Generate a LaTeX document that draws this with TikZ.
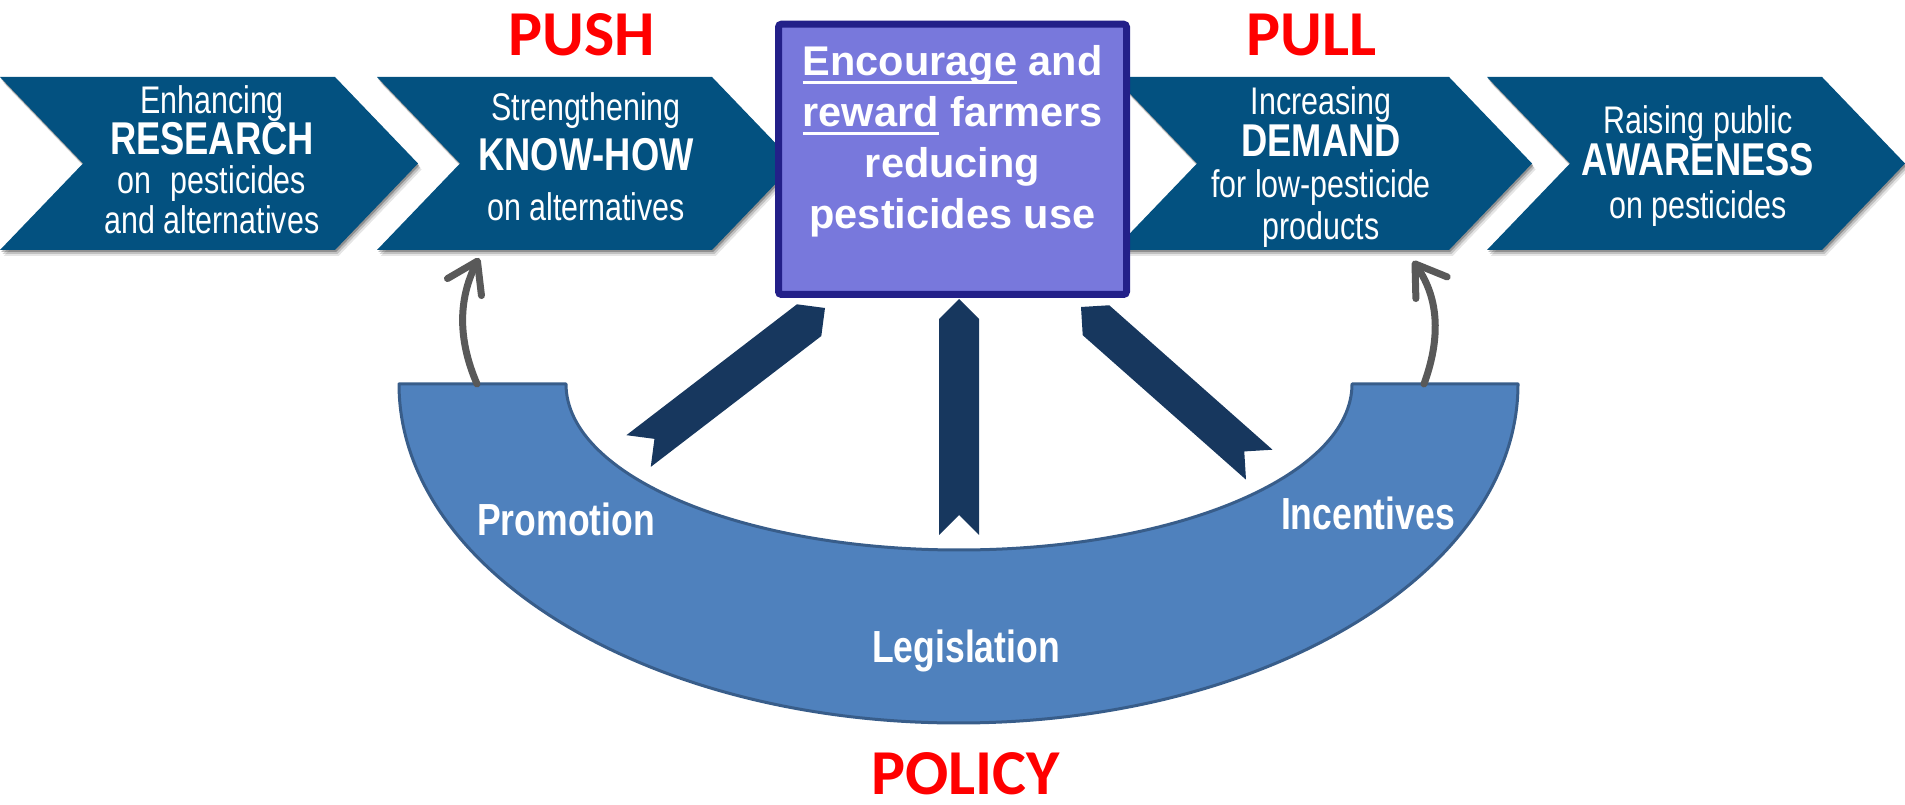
\documentclass[tikz,border=0pt]{standalone}
\usepackage{fontspec}
\setmainfont{Liberation Sans}
\newfontfamily\narrowfont[FakeStretch=0.79]{Liberation Sans}
\newfontfamily\calibfont{Carlito}
\usetikzlibrary{arrows.meta}

\definecolor{chev}{RGB}{3,81,128}
\definecolor{boxfill}{RGB}{120,120,220}
\definecolor{boxline}{RGB}{35,32,137}
\definecolor{polfill}{RGB}{79,129,189}
\definecolor{polline}{RGB}{56,93,138}
\definecolor{navyarrow}{RGB}{23,55,94}
\definecolor{greyarrow}{RGB}{89,89,89}
\definecolor{titlered}{RGB}{255,0,0}

% word with a thick underline set a little below the baseline
\newsavebox\ulbox
\newcommand\ulword[1]{\sbox\ulbox{#1}\rlap{\rule[-8.5pt]{\wd\ulbox}{3pt}}\usebox\ulbox}

\tikzset{
  chevronshape/.pic={
    % soft drop shadow
    \foreach \d/\o in {6/0.10, 4/0.16, 2/0.25}
      \fill[black, opacity=\o] (0.6*\d,-\d) -- ++(335,0) -- ++(83,86.5) -- ++(-83,86.5) -- ++(-335,0) -- ++(83,-86.5) -- cycle;
    \fill[chev] (0,0) -- (335,0) -- (418,86.5) -- (335,173) -- (0,173) -- (83,86.5) -- cycle;
  },
  leverpic/.pic={
    \fill[navyarrow] (0,0) -- (-20,20) -- (-#1,20) -- (-#1+20,0) -- (-#1,-20) -- (-20,-20) -- cycle;
  },
  chevtext/.style={anchor=north, align=center, inner sep=0pt, text=white},
  pollabel/.style={anchor=base, inner sep=0pt, text=white,
    font=\narrowfont\bfseries\fontsize{45}{48}\selectfont},
  redtitle/.style={anchor=base, inner sep=0pt, text=titlered,
    font=\calibfont\bfseries\fontsize{64}{70}\selectfont},
  greyarr/.style={draw=greyarrow, line width=7pt, line cap=round,
    -{Straight Barb[length=29pt,width=38pt,round]}},
}

\begin{document}
\begin{tikzpicture}[x=1pt,y=1pt]
\useasboundingbox (0,0) rectangle (1905,805);

% ---- row of chevrons ----
\pic (chevA) at (0,555) {chevronshape};
\pic (chevB) at (377,555) {chevronshape};
\pic (chevC) at (1114,555) {chevronshape};
\pic (chevD) at (1487,555) {chevronshape};

\node[chevtext, font=\narrowfont\fontsize{38.5}{39.5}\selectfont] (researchtxt) at (212,720)
  {Enhancing\\{\bfseries\fontsize{46}{39.5}\selectfont RESEARCH}\\on\enspace pesticides\\and alternatives};
\node[chevtext, font=\narrowfont\fontsize{38.5}{50}\selectfont] (knowtxt) at (586,713)
  {Strengthening\\{\bfseries\fontsize{46}{50}\selectfont KNOW-HOW}\\on alternatives};
\node[chevtext, font=\narrowfont\fontsize{38.5}{41.6}\selectfont] (demandtxt) at (1321,718.5)
  {Increasing\\{\bfseries\fontsize{46}{41.6}\selectfont DEMAND}\\for low-pesticide\\products};
\node[chevtext, font=\narrowfont\fontsize{38.5}{42.5}\selectfont] (awaretxt) at (1698,700)
  {Raising public\\{\bfseries\fontsize{46}{42.5}\selectfont AWARENESS}\\on pesticides};

% ---- central goal box ----
\node[draw=boxline, fill=boxfill, line width=7pt, rounded corners=3pt,
      minimum width=348pt, minimum height=270.3pt, inner sep=0pt] (goalbox) at (952.5,645.65) {};
\node[chevtext, font=\bfseries\fontsize{41.5}{51}\selectfont] (goaltxt) at (952.5,760)
  {\ulword{Encourage} and\\\ulword{reward} farmers\\reducing\\pesticides use};

% ---- titles ----
\node[redtitle] (push) at (581.7,749) {PUSH};
\node[redtitle] (pull) at (1311.7,749) {PULL};
\node[redtitle] (policy) at (965.5,10) {POLICY};

% ---- policy bowl ----
\path[fill=polfill, draw=polline, line width=3pt, line join=round]
  (399,421) arc[start angle=180, end angle=360, x radius=559.5, y radius=339]
  -- (1352,421) arc[start angle=0, end angle=-180, x radius=393, y radius=166] -- cycle;

\node[pollabel] (promotion) at (566,269) {Promotion};
\node[pollabel] (incentives) at (1368,275) {Incentives};
\node[pollabel] (legislation) at (966,142) {Legislation};

% ---- levers from the bowl towards the goal box ----
\pic[rotate=37.5] (leverL) at (825,497) {leverpic=235};
\pic[rotate=90] (leverM) at (959,506) {leverpic=236};
\pic[rotate=138.5] (leverR) at (1081,498) {leverpic=238};

% ---- grey feedback arrows ----
\coordinate (pushfoot) at (477,421);
\coordinate (pushhead) at (479,547);
\coordinate (pullfoot) at (1424,421);
\coordinate (pullhead) at (1413,544);
\draw[greyarr] (pushfoot) .. controls (458,465) and (458,505) .. (pushhead);
\draw[greyarr] (pullfoot) .. controls (1440,465) and (1440,505) .. (pullhead);
\end{tikzpicture}
\end{document}
